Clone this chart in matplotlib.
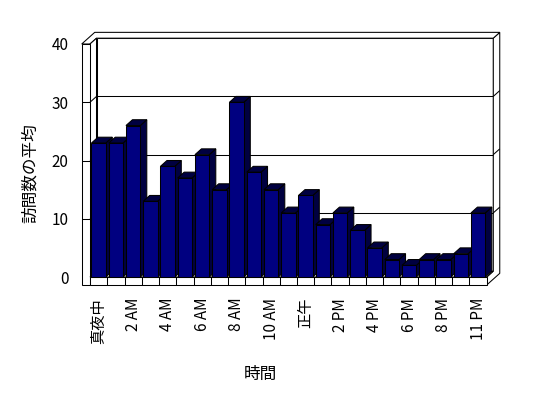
import matplotlib
matplotlib.use('Agg')
import matplotlib.pyplot as plt
from matplotlib.patches import Polygon, Rectangle

plt.rcParams['font.family'] = ['Noto Sans CJK JP', 'DejaVu Sans']

# 時間帯ごとの平均訪問数 (22時の列は元の表に無い)
categories = ['真夜中', '1 AM', '2 AM', '3 AM', '4 AM', '5 AM', '6 AM', '7 AM', '8 AM', '9 AM',
              '10 AM', '11 AM', '正午', '1 PM', '2 PM', '3 PM', '4 PM', '5 PM', '6 PM', '7 PM',
              '8 PM', '9 PM', '11 PM']
visits = [23, 23, 26, 13, 19, 17, 21, 15, 30, 18, 15, 11, 14, 9, 11, 8, 5, 3, 2, 3, 3, 4, 11]
y_ticks = [0, 10, 20, 30, 40]

FRONT = '#000080'
SIDE = '#000040'
LW = 0.75

# Tiefe der Schraegprojektion in Datenkoordinaten (ca. 6.5px nach rechts, 6px nach oben)
DX, DY = 0.377, 1.0
WALL = 0.48    # Dicke der linken Wand
FLOOR = 1.37   # Dicke des Bodens
BAR_W = 0.83

fig = plt.figure(figsize=(5.48, 3.98), dpi=100)
ax = fig.add_axes([90 / 548, 121 / 398, 396.75 / 548, 233 / 398])
ax.set_xlim(-0.5, len(visits) - 0.5)
ax.set_ylim(0, 40)
ax.patch.set_visible(False)
for s in ax.spines.values():
    s.set_visible(False)

x0, x1 = -0.5, len(visits) - 0.5
top = y_ticks[-1]


def poly(pts, fc='white', z=1):
    ax.add_patch(Polygon(pts, closed=True, facecolor=fc, edgecolor='black',
                         linewidth=LW, clip_on=False, zorder=z))


def seg(xs, ys, z=2):
    ax.plot(xs, ys, color='black', linewidth=LW, clip_on=False, zorder=z,
            solid_capstyle='butt')


# Rueckwand (Vorderseite mit Gitterlinien)
poly([(x0 + DX, DY), (x1 + DX, DY), (x1 + DX, top + DY), (x0 + DX, top + DY)])
# rechte Seite von Boden + Rueckwand
poly([(x1, -FLOOR), (x1, 0), (x1 + DX, DY), (x1 + DX, top + DY),
      (x1 + 2 * DX, top + 2 * DY), (x1 + 2 * DX, -FLOOR + 2 * DY)])
# Oberkante von linker Wand + Rueckwand
poly([(x0 - WALL, top), (x0, top), (x0 + DX, top + DY), (x1 + DX, top + DY),
      (x1 + 2 * DX, top + 2 * DY), (x0 - WALL + 2 * DX, top + 2 * DY)])
# Innenseite der linken Wand
poly([(x0, 0), (x0, top), (x0 + DX, top + DY), (x0 + DX, DY)])
# Vorderseite der linken Wand
poly([(x0 - WALL, -FLOOR), (x0, -FLOOR), (x0, top), (x0 - WALL, top)])
# Boden oben und vorne
poly([(x0, 0), (x1, 0), (x1 + DX, DY), (x0 + DX, DY)])
poly([(x0, -FLOOR), (x1, -FLOOR), (x1, 0), (x0, 0)])

for v in y_ticks[1:-1]:
    seg([x0 + DX, x1 + DX], [v + DY, v + DY])
    seg([x1 + DX, x1 + 2 * DX], [v + DY, v + 2 * DY])
    seg([x0, x0 + DX], [v, v + DY])
    seg([x0 - WALL, x0], [v, v])

# Kategorie-Trennstriche auf der Bodenvorderseite
for i in range(len(visits) - 1):
    seg([i + 0.5, i + 0.5], [-FLOOR, 0])

# Saeulen
for i, v in enumerate(visits):
    l, r = i - BAR_W / 2, i + BAR_W / 2
    z = 10 + i
    poly([(r, 0), (r, v), (r + DX, v + DY), (r + DX, DY)], fc=SIDE, z=z)
    poly([(l, v), (r, v), (r + DX, v + DY), (l + DX, v + DY)], fc=SIDE, z=z)
    ax.add_patch(Rectangle((l, 0), BAR_W, v, facecolor=FRONT, edgecolor='black',
                           linewidth=LW, clip_on=False, zorder=z))

ax.set_yticks(y_ticks)
ax.set_yticklabels([str(t) for t in y_ticks], fontsize=11)
ax.set_xticks(range(0, len(categories), 2))
ax.set_xticklabels(categories[::2], rotation=90, fontsize=11)
ax.tick_params(axis='x', length=0, pad=15)
ax.tick_params(axis='y', length=0, pad=15.5)

ax.set_ylabel('訪問数の平均', fontsize=12)
ax.yaxis.set_label_coords(-0.151, 0.446)
ax.yaxis.label.set_va('center')
ax.set_xlabel('時間', fontsize=12)
ax.xaxis.set_label_coords(0.4286, -0.42)
ax.xaxis.label.set_va('center')

fig.savefig('out.png', dpi=100)
